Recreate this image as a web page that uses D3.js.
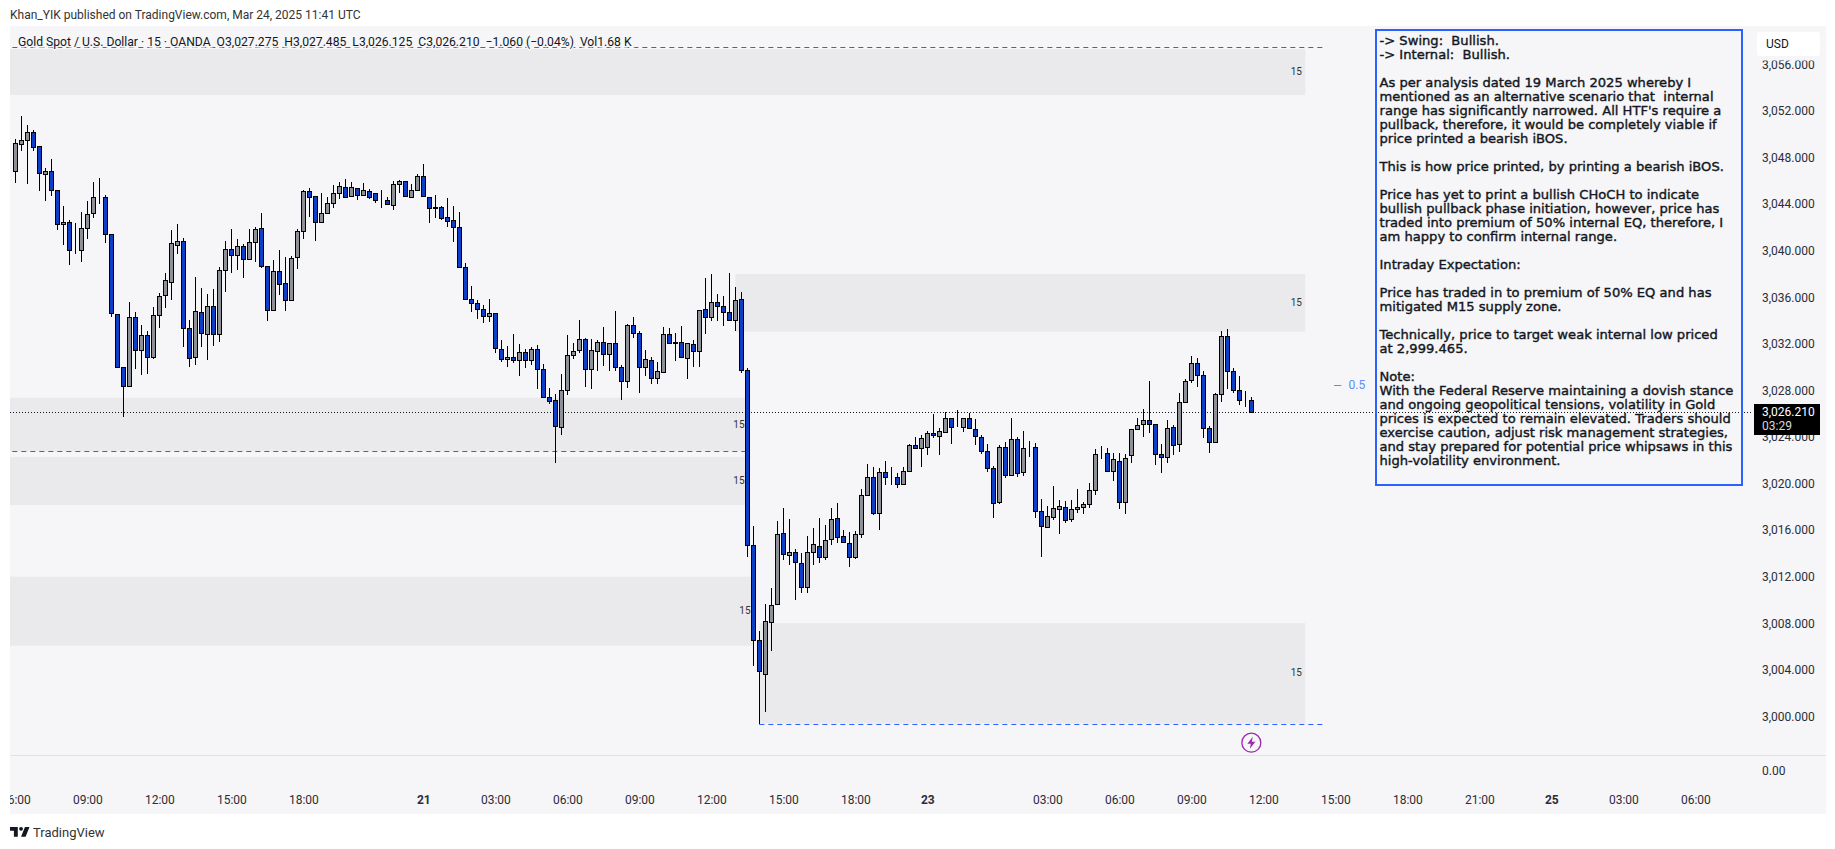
<!DOCTYPE html>
<html lang="en">
<head>
<meta charset="utf-8">
<title>Gold Spot / U.S. Dollar 15m</title>
<script src="https://cdn.jsdelivr.net/npm/d3@7/dist/d3.min.js"></script>
<style>
html, body { margin: 0; padding: 0; background: #fff; }
svg { display: block; }
text { font-family: Roboto, sans-serif; }
.axis text { font-family: Roboto, sans-serif; font-size: 12px; fill: #2a2e39; }
.axis path, .axis line { display: none; }
</style>
</head>
<body>
<svg width="1835" height="849"></svg>
<script>

// candles, 15 minute bars, index 0 is the 06:00 bar at the left edge
var opens = [
3046.95,3049.21,3049.55,3050.24,3049.04,3046.63,3046.89,3045.26,3042.34,3042.51,
3040.11,3040.11,3041.99,3043.28,3044.71,3044.66,3041.48,3034.61,3030.06,3028.49,
3034.35,3031.52,3032.81,3030.92,3034.53,3036.24,3037.36,3040.54,3040.88,3033.41,
3030.92,3034.78,3032.89,3035.30,3032.89,3038.39,3040.19,3039.68,3040.45,3039.33,
3040.79,3041.99,3038.73,3034.96,3038.30,3037.27,3035.81,3039.51,3041.74,3045.17,
3044.74,3042.51,3043.28,3044.14,3045.00,3045.52,3044.74,3045.43,3044.83,3045.17,
3045.00,3044.40,3044.40,3043.97,3045.77,3046.03,3044.66,3045.26,3046.46,3044.66,
3043.80,3043.80,3042.94,3042.68,3042.08,3038.65,3035.90,3035.56,3035.04,3034.44,
3034.70,3031.61,3030.75,3030.92,3030.66,3031.35,3030.66,3031.61,3029.89,3027.49,
3027.23,3024.91,3028.09,3031.09,3031.52,3032.47,3029.89,3031.44,3032.21,3031.18,
3032.12,3030.06,3028.86,3033.67,3032.98,3030.06,3030.66,3029.12,3029.63,3032.90,
3032.21,3032.21,3030.84,3032.04,3031.44,3035.04,3034.36,3035.64,3035.30,3034.78,
3034.10,3035.90,3029.80,3014.77,3006.62,3003.70,3008.16,3009.71,3015.80,3013.92,
3014.17,3013.23,3011.17,3014.17,3014.69,3013.74,3015.29,3017.09,3015.55,3014.95,
3013.74,3015.72,3019.07,3020.61,3017.52,3021.04,3020.61,3020.61,3020.01,3021.13,
3023.36,3023.10,3023.19,3024.39,3024.13,3024.48,3025.68,3024.91,3024.91,3025.68,
3024.73,3024.05,3022.85,3021.39,3018.47,3023.19,3020.78,3023.88,3021.05,3023.14,
3023.19,3017.70,3016.32,3017.19,3017.87,3018.04,3017.01,3017.87,3018.04,3018.30,
3019.50,3022.68,3022.68,3021.13,3021.99,3018.47,3022.51,3024.74,3025.17,3025.51,
3025.17,3022.59,3022.34,3024.91,3023.45,3027.06,3028.95,3030.41,3029.38,3024.83,
3023.62,3027.74,3032.72,3029.72,3028.09,3027.23,3027.275];

var highs = [
3049.67,3051.64,3050.87,3050.44,3049.04,3047.15,3047.92,3045.26,3043.91,3042.71,
3042.42,3043.40,3044.34,3045.97,3046.32,3044.86,3041.48,3034.61,3030.06,3035.67,
3034.78,3033.67,3033.15,3035.21,3036.41,3038.13,3041.85,3042.37,3041.14,3034.10,
3037.82,3036.84,3036.33,3036.76,3038.65,3040.88,3041.94,3041.08,3040.62,3041.94,
3042.08,3043.31,3038.73,3039.25,3040.11,3039.53,3039.59,3041.91,3045.26,3045.43,
3044.74,3045.00,3044.66,3045.69,3045.94,3046.20,3045.94,3045.43,3045.89,3045.34,
3045.00,3045.26,3044.66,3046.03,3046.12,3046.03,3045.77,3046.63,3047.52,3044.66,
3044.86,3043.88,3044.57,3043.89,3043.37,3038.99,3037.02,3035.81,3035.39,3035.90,
3034.70,3032.38,3031.87,3032.90,3032.04,3031.61,3031.78,3031.95,3030.32,3028.26,
3027.74,3029.46,3032.81,3032.12,3034.10,3032.55,3032.47,3032.38,3033.50,3032.12,
3034.87,3030.23,3033.78,3034.36,3033.15,3031.52,3030.92,3030.49,3033.50,3033.41,
3032.98,3033.58,3032.12,3032.38,3034.96,3037.70,3038.05,3036.33,3036.16,3038.13,
3036.93,3036.50,3029.98,3016.41,3007.39,3009.71,3011.08,3016.84,3017.95,3017.01,
3014.43,3014.09,3015.55,3016.23,3017.09,3016.49,3017.95,3018.38,3016.06,3015.89,
3015.98,3019.58,3021.73,3021.47,3021.39,3021.99,3021.47,3020.96,3021.47,3023.45,
3024.05,3024.22,3024.56,3026.02,3024.82,3026.19,3025.68,3026.37,3025.68,3026.11,
3025.59,3024.22,3023.45,3021.56,3023.36,3023.62,3025.68,3024.05,3024.57,3023.74,
3023.54,3018.73,3018.13,3019.85,3018.64,3018.56,3018.64,3019.59,3018.47,3020.13,
3023.02,3023.31,3023.11,3022.68,3022.68,3022.59,3024.74,3025.68,3026.46,3028.86,
3025.17,3023.45,3025.51,3025.08,3027.83,3029.03,3031.01,3030.84,3029.72,3025.00,
3027.83,3033.15,3033.33,3029.98,3029.29,3028.00,3027.485];

var lows = [
3045.92,3048.66,3045.83,3048.66,3045.23,3044.37,3044.80,3041.85,3040.56,3038.85,
3039.82,3039.13,3041.08,3042.85,3044.11,3040.76,3034.41,3030.03,3025.77,3028.40,
3029.95,3029.43,3029.52,3030.75,3033.47,3035.18,3035.87,3039.82,3031.84,3030.12,
3030.29,3031.84,3030.72,3031.92,3032.26,3036.56,3038.13,3038.39,3037.70,3039.33,
3039.08,3038.56,3034.07,3034.96,3036.24,3034.93,3035.73,3038.53,3041.11,3042.94,
3040.94,3042.51,3043.28,3043.71,3044.51,3044.66,3044.74,3044.43,3044.83,3044.49,
3044.14,3043.71,3044.06,3043.57,3045.00,3044.74,3044.66,3045.26,3044.66,3042.48,
3042.91,3042.68,3042.14,3040.85,3038.65,3035.90,3034.84,3034.24,3033.90,3033.98,
3031.32,3030.49,3030.12,3030.41,3029.35,3030.03,3030.29,3028.17,3027.49,3026.89,
3021.88,3024.22,3027.66,3030.75,3031.26,3028.35,3028.17,3029.72,3030.21,3029.72,
3029.72,3027.23,3028.26,3032.55,3027.83,3029.29,3028.60,3028.60,3029.63,3032.12,
3030.58,3030.92,3029.09,3030.12,3030.06,3032.90,3034.01,3034.01,3033.58,3034.01,
3033.15,3029.55,3013.74,3004.39,2999.465,3000.49,3005.73,3009.71,3013.54,3013.11,
3010.11,3010.71,3010.71,3013.11,3013.29,3013.54,3014.77,3014.95,3014.95,3012.94,
3013.57,3015.38,3019.07,3017.35,3016.12,3019.93,3019.93,3019.67,3020.01,3021.13,
3023.02,3021.53,3022.50,3023.96,3022.50,3024.48,3023.45,3024.91,3024.48,3024.82,
3023.36,3022.59,3021.04,3017.09,3018.29,3020.53,3020.78,3020.61,3020.76,3022.36,
3017.16,3013.81,3016.32,3016.96,3015.78,3016.67,3016.75,3017.53,3017.44,3017.96,
3019.07,3022.16,3021.13,3020.27,3017.93,3017.44,3021.82,3024.65,3024.11,3024.45,
3021.65,3021.02,3021.88,3022.51,3022.82,3027.06,3028.69,3028.40,3024.02,3022.68,
3023.54,3027.11,3028.20,3027.83,3026.80,3026.69,3026.125];

var closes = [
3049.29,3049.61,3050.24,3048.95,3046.72,3046.89,3045.26,3042.34,3042.51,3040.11,
3040.13,3041.99,3043.20,3044.66,3044.73,3041.48,3034.70,3030.12,3028.49,3034.35,
3031.52,3032.81,3030.92,3034.53,3036.16,3037.53,3040.71,3040.88,3033.41,3030.83,
3034.87,3032.98,3035.30,3032.89,3038.39,3040.19,3039.68,3040.45,3039.33,3040.79,
3041.91,3038.73,3034.96,3038.30,3037.19,3035.81,3039.42,3041.74,3045.17,3044.66,
3042.51,3043.28,3044.14,3045.00,3045.60,3044.66,3045.52,3044.83,3045.26,3044.66,
3044.40,3044.41,3044.06,3045.77,3046.03,3044.74,3045.26,3046.46,3044.74,3043.71,
3043.78,3042.85,3042.66,3042.08,3038.65,3035.90,3035.56,3035.04,3034.44,3034.70,
3031.69,3030.75,3030.92,3030.66,3031.35,3030.66,3031.61,3029.89,3027.49,3027.14,
3025.00,3028.09,3031.09,3031.44,3032.47,3029.89,3031.52,3032.21,3031.18,3032.12,
3030.06,3028.86,3033.67,3032.98,3030.06,3030.75,3029.12,3029.72,3032.90,3032.12,
3032.12,3030.92,3032.12,3031.44,3034.96,3034.36,3035.64,3035.30,3034.78,3034.10,
3035.81,3029.80,3014.77,3006.62,3003.96,3008.25,3009.62,3015.72,3014.00,3014.17,
3013.31,3011.17,3014.17,3014.86,3013.74,3015.20,3017.01,3015.46,3015.03,3013.74,
3015.72,3019.07,3020.61,3017.52,3021.04,3020.61,3020.63,3020.01,3021.13,3023.36,
3023.10,3023.96,3024.39,3024.22,3024.56,3025.68,3024.91,3024.93,3025.68,3024.82,
3024.13,3022.85,3021.39,3018.38,3023.19,3020.78,3023.88,3020.96,3023.11,3023.16,
3017.70,3016.41,3017.27,3017.96,3018.13,3016.93,3017.87,3018.04,3018.30,3019.50,
3022.59,3022.70,3021.13,3022.16,3018.47,3022.25,3024.74,3025.08,3025.51,3025.17,
3022.59,3022.34,3024.83,3023.37,3027.06,3028.86,3030.41,3029.38,3024.83,3023.62,
3027.74,3032.72,3029.72,3028.09,3027.23,3027.25,3026.21];

var priceTicks = [3000,3004,3008,3012,3016,3020,3024,3028,3032,3036,3040,3044,3048,3052,3056];
var timeTickBars = [0,12,24,36,48,68,80,92,104,116,128,140,152,172,184,196,208,220,232,244,256,268,280];
var timeTickLabels = ["06:00","09:00","12:00","15:00","18:00","21","03:00","06:00","09:00","12:00","15:00","18:00","23",
                      "03:00","06:00","09:00","12:00","15:00","18:00","21:00","25","03:00","06:00"];
var dayLabels = ["21","23","25"];

// supply and demand zones: from bar, to bar, top price, bottom price
var zoneFrom = [-2,120,-2,-2,-2,124];
var zoneTo = [215,215,122,122,123,215];
var zoneTop = [3057.39,3038.08,3027.45,3022.36,3012.08,3008.10];
var zoneBottom = [3053.45,3033.12,3022.85,3018.24,3006.16,2999.465];
// little "15" timeframe labels on the zones
var zoneLabelBar = [213.5,213.5,120.6,120.6,121.6,213.5];
var zoneLabelPrice = [3055.5,3035.6,3025.18,3020.37,3009.22,3003.85];

// blue dashed levels: from bar, to bar, price
var levelFrom = [-2,-2,124];
var levelTo = [218.3,122,218.3];
var levelPrice = [3057.55,3022.85,2999.465];

var lastPrice = 3026.21;
var eqPrice = 3028.55;

var noteLines = [
"-> Swing:  Bullish.",
"-> Internal:  Bullish.",
"",
"As per analysis dated 19 March 2025 whereby I",
"mentioned as an alternative scenario that  internal",
"range has significantly narrowed. All HTF's require a",
"pullback, therefore, it would be completely viable if",
"price printed a bearish iBOS.",
"",
"This is how price printed, by printing a bearish iBOS.",
"",
"Price has yet to print a bullish CHoCH to indicate",
"bullish pullback phase initiation, however, price has",
"traded into premium of 50% internal EQ, therefore, I",
"am happy to confirm internal range.",
"",
"Intraday Expectation:",
"",
"Price has traded in to premium of 50% EQ and has",
"mitigated M15 supply zone.",
"",
"Technically, price to target weak internal low priced",
"at 2,999.465.",
"",
"Note:",
"With the Federal Reserve maintaining a dovish stance",
"and ongoing geopolitical tensions, volatility in Gold",
"prices is expected to remain elevated. Traders should",
"exercise caution, adjust risk management strategies,",
"and stay prepared for potential price whipsaws in this",
"high-volatility environment."];

var svg = d3.select("svg");

var panel = {left: 10, top: 26, right: 1826, bottom: 814},
    plotRight = 1752,
    paneBottom = 755;

var x = d3.scaleLinear().domain([0, 280]).range([15.33, 1695.33]);
var y = d3.scaleLinear().domain([3000, 3056]).range([717.4, 65.28]);
var volY = d3.scaleLinear().domain([0, 1]).range([770.7, 760]);

var bars = d3.range(closes.length);

svg.append("rect")
    .attr("x", panel.left).attr("y", panel.top)
    .attr("width", panel.right - panel.left).attr("height", panel.bottom - panel.top)
    .attr("fill", "#f6f5f7");

svg.append("clipPath").attr("id", "plotclip").append("rect")
    .attr("x", panel.left).attr("y", panel.top)
    .attr("width", plotRight - panel.left).attr("height", paneBottom - panel.top);
svg.append("clipPath").attr("id", "axisclip").append("rect")
    .attr("x", panel.left).attr("y", paneBottom)
    .attr("width", panel.right - panel.left).attr("height", panel.bottom - paneBottom);

var plot = svg.append("g").attr("clip-path", "url(#plotclip)");

plot.selectAll(".zone")
    .data(zoneFrom)
  .enter().append("rect")
    .attr("class", "zone")
    .attr("x", function(d) { return x(d); })
    .attr("y", function(d, i) { return y(zoneTop[i]); })
    .attr("width", function(d, i) { return x(zoneTo[i]) - x(d); })
    .attr("height", function(d, i) { return y(zoneBottom[i]) - y(zoneTop[i]); })
    .attr("fill", "#eaeaec");

plot.selectAll(".zonelabel")
    .data(zoneLabelBar)
  .enter().append("text")
    .attr("class", "zonelabel")
    .attr("x", function(d) { return x(d); })
    .attr("y", function(d, i) { return y(zoneLabelPrice[i]); })
    .attr("text-anchor", "middle")
    .attr("dy", "0.35em")
    .style("font-size", "10px")
    .style("fill", "#333")
    .text("15");

plot.selectAll(".level")
    .data(levelFrom)
  .enter().append("line")
    .attr("class", "level")
    .attr("x1", function(d) { return x(d); })
    .attr("x2", function(d, i) { return x(levelTo[i]); })
    .attr("y1", function(d, i) { return Math.round(y(levelPrice[i])) + 0.5; })
    .attr("y2", function(d, i) { return Math.round(y(levelPrice[i])) + 0.5; })
    .attr("stroke", "#2962ff")
    .attr("stroke-width", 1)
    .attr("stroke-dasharray", "5,4");

// current price dotted line
plot.append("line")
    .attr("x1", panel.left).attr("x2", plotRight)
    .attr("y1", Math.round(y(lastPrice)) + 0.5).attr("y2", Math.round(y(lastPrice)) + 0.5)
    .attr("stroke", "#131722")
    .attr("stroke-dasharray", "1,2");

// candles
var candle = plot.selectAll(".candle")
    .data(bars)
  .enter().append("g")
    .attr("class", "candle")
    .attr("shape-rendering", "crispEdges");

candle.append("rect")
    .attr("x", function(d) { return Math.round(x(d)) - 0.5; })
    .attr("width", 1)
    .attr("y", function(d) { return y(highs[d]); })
    .attr("height", function(d) { return y(lows[d]) - y(highs[d]); })
    .attr("fill", "#000");

candle.append("rect")
    .attr("x", function(d) { return Math.round(x(d)) - 2; })
    .attr("width", 4)
    .attr("y", function(d) { return Math.round(y(Math.max(opens[d], closes[d]))) + 0.5; })
    .attr("height", function(d) {
      return Math.round(y(Math.min(opens[d], closes[d]))) - Math.round(y(Math.max(opens[d], closes[d])));
    })
    .attr("fill", function(d) { return closes[d] < opens[d] ? "#0d3fc6" : "#8d9097"; })
    .attr("stroke", "#000")
    .attr("stroke-width", 1);

// 0.5 equilibrium marker
plot.append("line")
    .attr("x1", x(219.8)).attr("x2", x(221))
    .attr("y1", Math.round(y(eqPrice)) + 0.5).attr("y2", Math.round(y(eqPrice)) + 0.5)
    .attr("stroke", "#5b8cff");
plot.append("text")
    .attr("x", x(222.2))
    .attr("y", y(eqPrice))
    .attr("dy", "0.35em")
    .style("font-size", "12px")
    .style("fill", "#5b8cff")
    .text("0.5");

// lightning marker under the last bar
var flash = plot.append("g")
    .attr("transform", "translate(" + x(206) + "," + y(2997.83) + ")");
flash.append("circle")
    .attr("r", 9.5)
    .attr("fill", "none")
    .attr("stroke", "#9c27b0")
    .attr("stroke-width", 1.3);
flash.append("path")
    .attr("d", "M1.5,-6 L-4,1 L-0.5,1 L-1.5,6 L4,-1 L0.5,-1 Z")
    .attr("fill", "#9c27b0");

// pane separator
svg.append("line")
    .attr("x1", panel.left).attr("x2", panel.right)
    .attr("y1", paneBottom + 0.5).attr("y2", paneBottom + 0.5)
    .attr("stroke", "#e0e0e8");

// axes
svg.append("g")
    .attr("class", "axis")
    .attr("transform", "translate(1762,-1)")
    .call(d3.axisRight(y).tickValues(priceTicks).tickFormat(d3.format(",.3f")).tickSize(0).tickPadding(0));

svg.append("g")
    .attr("class", "axis")
    .attr("transform", "translate(1762,0)")
    .call(d3.axisRight(volY).tickValues([0]).tickFormat(d3.format(".2f")).tickSize(0).tickPadding(0));

var xAxis = svg.append("g")
    .attr("class", "axis")
    .attr("clip-path", "url(#axisclip)")
  .append("g")
    .attr("transform", "translate(0,795)")
    .call(d3.axisBottom(x).tickValues(timeTickBars)
        .tickFormat(function(d, i) { return timeTickLabels[i]; }).tickSize(0).tickPadding(0));
xAxis.selectAll("text")
    .style("font-weight", function(d, i) { return dayLabels.indexOf(timeTickLabels[i]) >= 0 ? "700" : "400"; });

// USD badge, sits over the top tick label
svg.append("rect")
    .attr("x", 1757).attr("y", 56).attr("width", 63).attr("height", 4.5)
    .attr("fill", "#f6f5f7");
svg.append("rect")
    .attr("x", 1757).attr("y", 32).attr("width", 63).attr("height", 24).attr("rx", 3)
    .attr("fill", "#fff");
svg.append("text")
    .attr("x", 1766).attr("y", 44).attr("dy", "0.35em")
    .style("font-size", "12px").style("fill", "#131722")
    .text("USD");

// last price tag
svg.append("rect")
    .attr("x", 1754).attr("y", 404).attr("width", 66).attr("height", 31)
    .attr("fill", "#000");
svg.append("text")
    .attr("x", 1762).attr("y", 411.7).attr("dy", "0.35em")
    .style("font-size", "12px").style("fill", "#fff")
    .text(d3.format(",.3f")(lastPrice));
svg.append("text")
    .attr("x", 1762).attr("y", 425.5).attr("dy", "0.35em")
    .style("font-size", "12px").style("fill", "#d6d6d6")
    .text("03:29");

// analysis note
svg.append("rect")
    .attr("x", 1376).attr("y", 30).attr("width", 366).attr("height", 455)
    .attr("fill", "none")
    .attr("stroke", "#2962ff")
    .attr("stroke-width", 2);

svg.append("g").selectAll("text")
    .data(noteLines)
  .enter().append("text")
    .attr("x", 1379.5)
    .attr("y", function(d, i) { return 40 + i * 14; })
    .attr("dy", "0.35em")
    .attr("xml:space", "preserve")
    .style("white-space", "pre")
    .style("font-family", "'DejaVu Sans', sans-serif")
    .style("font-size", "13.1px")
    .style("fill", "#131722")
    .style("stroke", "#131722")
    .style("stroke-width", "0.4px")
    .text(function(d) { return d; });

// header and legend
svg.append("text")
    .attr("x", 10).attr("y", 15).attr("dy", "0.35em")
    .style("font-size", "12px").style("fill", "#333")
    .text("Khan_YIK published on TradingView.com, Mar 24, 2025 11:41 UTC");

svg.append("text")
    .attr("x", 18).attr("y", 41.5).attr("dy", "0.35em")
    .attr("xml:space", "preserve")
    .style("white-space", "pre")
    .style("font-size", "12.15px").style("fill", "#131722")
    .style("paint-order", "stroke")
    .style("stroke", "#f6f5f7").style("stroke-width", "3px")
    .text("Gold Spot / U.S. Dollar · 15 · OANDA  O3,027.275  H3,027.485  L3,026.125  C3,026.210  −1.060 (−0.04%)  Vol1.68 K");

// TradingView footer
svg.append("path")
    .attr("transform", "translate(8.7,823) scale(0.65)")
    .attr("d", "M14 6H2v6h6v9h6V6Zm12 15h-7l6-15h7l-6 15Zm-7-9a3 3 0 1 0 0-6 3 3 0 0 0 0 6Z")
    .attr("fill", "#131722");
svg.append("text")
    .attr("x", 33).attr("y", 832).attr("dy", "0.35em")
    .style("font-size", "13px").style("fill", "#333")
    .text("TradingView");

</script>
</body>
</html>
